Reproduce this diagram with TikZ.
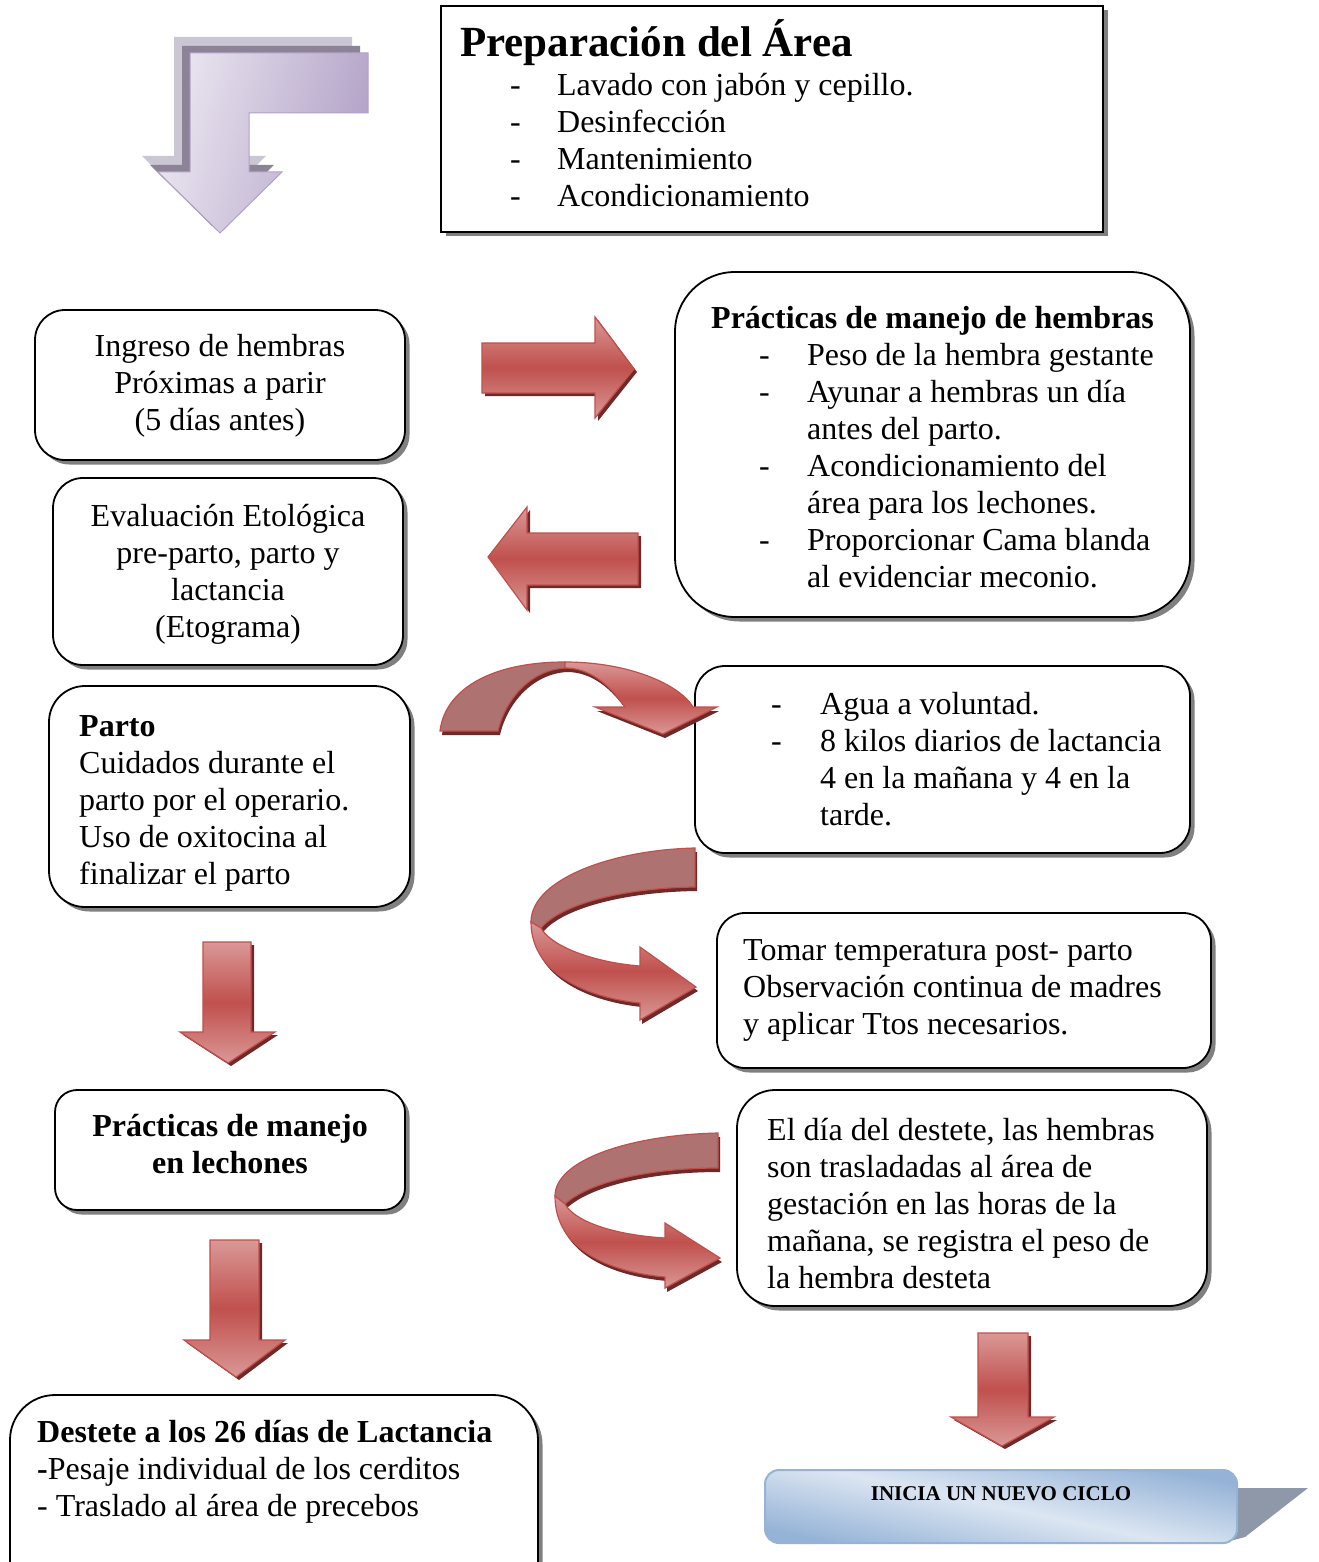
\documentclass[tikz,border=0pt]{standalone}
\usepackage{fontspec}
\setmainfont{Liberation Serif}
\usetikzlibrary{shadows}
\definecolor{rmid}{HTML}{C0504D}
\definecolor{rlight}{HTML}{DA9896}
\definecolor{rline}{HTML}{C24F4C}
\definecolor{rdark}{HTML}{6E2A28}
\definecolor{rback}{HTML}{AE7371}
\definecolor{lavl}{HTML}{EAE6F0}
\definecolor{lavd}{HTML}{B2A1C7}
\definecolor{lavs1}{HTML}{8C8496}
\definecolor{lavs2}{HTML}{CBC6D3}
\definecolor{bluel}{HTML}{DCE6F2}
\definecolor{blued}{HTML}{95B3D7}
\definecolor{blues}{HTML}{8E98A9}
\newcommand\fs{\fontsize{32}{37}\selectfont}
\tikzset{
  box/.style={draw=black, line width=1.8pt, fill=white, inner sep=0pt,
    drop shadow={shadow xshift=4.5pt, shadow yshift=-4.5pt, fill=black!50, opacity=1}},
  txt/.style={inner sep=0pt, font=\fs, anchor=base west},
  ctxt/.style={inner sep=0pt, font=\fs, anchor=base},
  rshad/.style={fill=rdark},
  rfront/.style={draw=rline, line width=1.2pt, top color=rlight, bottom color=rlight, middle color=rmid},
  rbackf/.style={draw=rline, line width=1.2pt, fill=rback},
}
\begin{document}
\begin{tikzpicture}[x=1pt, y=-1pt]
\clip (0,0) rectangle (1318,1562);
\fill[white] (0,0) rectangle (1318,1562);

% ---- top-left lavender bent arrow
\def\pLav{(190,53) -- (368,53) -- (368,113) -- (249,113) -- (249,172) -- (282,172) -- (220,233) -- (158,172) -- (190,172) -- cycle}
\fill[fill=lavs2, shift={(-16,-16)}] \pLav;
\fill[fill=lavs1, shift={(-8,-7)}] \pLav;
\path[draw=lavd, line width=1pt, left color=lavl, right color=lavd, shading angle=75] \pLav;

% ---- boxes
\node[box, minimum width=662pt, minimum height=226pt] (prep) at (772,119) {};
\node[box, rounded corners=30pt, minimum width=370pt, minimum height=150pt] (ingreso) at (220,385) {};
\node[box, rounded corners=60pt, minimum width=515pt, minimum height=345pt] (hembras) at (932.5,444.5) {};
\node[box, rounded corners=30pt, minimum width=350pt, minimum height=187pt] (etol) at (228,571.5) {};
\node[box, rounded corners=36pt, minimum width=361pt, minimum height=221pt] (parto) at (229.5,796.5) {};
\node[box, rounded corners=30pt, minimum width=495pt, minimum height=187pt] (agua) at (942.5,759.5) {};
\node[box, rounded corners=28pt, minimum width=494pt, minimum height=155pt] (temp) at (964,990.5) {};
\node[box, rounded corners=22pt, minimum width=350pt, minimum height=120pt] (lech) at (230,1150) {};
\node[box, rounded corners=38pt, minimum width=470pt, minimum height=216pt] (dest) at (972,1198) {};
\node[box, rounded corners=45pt, minimum width=528pt, minimum height=230pt] (final) at (274,1510) {};

% ---- texts
\node[inner sep=0pt, anchor=base west, font=\fontsize{43}{50}\selectfont\bfseries] (tprep) at (460,57) {Preparación del Área};
\node[txt] (lprep) at (510,96) {\begin{tabular}[t]{@{}l@{}}
\makebox[47pt][l]{-}Lavado con jabón y cepillo.\\
\makebox[47pt][l]{-}Desinfección\\
\makebox[47pt][l]{-}Mantenimiento\\
\makebox[47pt][l]{-}Acondicionamiento\end{tabular}};
\node[ctxt] (tingreso) at (220,356) {\begin{tabular}[t]{@{}c@{}}Ingreso de hembras\\ Próximas a parir\\ (5 días antes)\end{tabular}};
\node[txt] (thembras) at (711,328) {\begin{tabular}[t]{@{}l@{}}
\textbf{Prácticas de manejo de hembras}\\
\hspace{48pt}\makebox[48pt][l]{-}Peso de la hembra gestante\\
\hspace{48pt}\makebox[48pt][l]{-}Ayunar a hembras un día\\
\hspace{48pt}\hspace{48pt}antes del parto.\\
\hspace{48pt}\makebox[48pt][l]{-}Acondicionamiento del\\
\hspace{48pt}\hspace{48pt}área para los lechones.\\
\hspace{48pt}\makebox[48pt][l]{-}Proporcionar Cama blanda\\
\hspace{48pt}\hspace{48pt}al evidenciar meconio.\end{tabular}};
\node[ctxt] (tetol) at (228,526) {\begin{tabular}[t]{@{}c@{}}Evaluación Etológica\\ pre-parto, parto y\\ lactancia\\ (Etograma)\end{tabular}};
\node[txt] (tparto) at (79,736) {\begin{tabular}[t]{@{}l@{}}\textbf{Parto}\\ Cuidados durante el\\ parto por el operario.\\ Uso de oxitocina al\\ finalizar el parto\end{tabular}};
\node[txt] (tagua) at (771,714) {\begin{tabular}[t]{@{}l@{}}
\makebox[49pt][l]{-}Agua a voluntad.\\
\makebox[49pt][l]{-}8 kilos diarios de lactancia\\
\hspace{49pt}4 en la mañana y 4 en la\\
\hspace{49pt}tarde.\end{tabular}};
\node[txt] (ttemp) at (743,960) {\begin{tabular}[t]{@{}l@{}}Tomar temperatura post- parto\\ Observación continua de madres\\ y aplicar Ttos necesarios.\end{tabular}};
\node[ctxt] (tlech) at (230,1136) {\begin{tabular}[t]{@{}c@{}}\textbf{Prácticas de manejo}\\ \textbf{en lechones}\end{tabular}};
\begin{scope}
\clip (737,1095) rectangle (1207,1289);
\node[txt] (tdest) at (767,1140) {\begin{tabular}[t]{@{}l@{}}El día del destete, las hembras\\ son trasladadas al área de\\ gestación en las horas de la\\ mañana, se registra el peso de\\ la hembra desteta\end{tabular}};
\end{scope}
\node[txt] (tfinal) at (37,1442) {\begin{tabular}[t]{@{}l@{}}\textbf{Destete a los 26 días de Lactancia}\\ \textbf{-}Pesaje individual de los cerditos\\ - Traslado al área de precebos\end{tabular}};

% ---- straight red arrows
\def\pRA{(482,343) -- (595,343) -- (595,317) -- (634,369) -- (595,418) -- (595,393) -- (482,393) -- cycle}
\fill[rshad, shift={(3,3)}] \pRA;
\path[rfront] \pRA;
\def\pLA{(638,533) -- (527,533) -- (527,507) -- (488,557) -- (527,610) -- (527,585) -- (638,585) -- cycle}
\fill[rshad, shift={(3,3)}] \pLA;
\path[rfront] \pLA;
\def\pDa{(203,942) -- (251,942) -- (251,1032) -- (275,1032) -- (228,1063) -- (180,1032) -- (203,1032) -- cycle}
\fill[rshad, shift={(3,3)}] \pDa;
\path[rfront] \pDa;
\def\pDb{(210,1240) -- (259,1240) -- (259,1340) -- (285,1340) -- (236,1377) -- (184,1340) -- (210,1340) -- cycle}
\fill[rshad, shift={(3,3)}] \pDb;
\path[rfront] \pDb;
\def\pDc{(978,1333) -- (1028,1333) -- (1028,1417) -- (1054,1417) -- (1002,1446) -- (951,1417) -- (978,1417) -- cycle}
\fill[rshad, shift={(3,3)}] \pDc;
\path[rfront] \pDc;

% ---- curved arrow 1 (arch)
\def\pCaL{(440,731) .. controls (445,690) and (490,662) .. (565,662) -- (565,668) .. controls (530,670) and (505,700) .. (498,731) -- cycle}
\def\pCaR{(565,662) .. controls (630,662) and (680,685) .. (693,707) -- (717,707) -- (663,734) -- (595,707) -- (625,707) .. controls (610,685) and (590,668) .. (565,668) -- cycle}
\fill[rshad, shift={(2,4)}] \pCaL;
\fill[rshad, shift={(2,4)}] \pCaR;
\path[rbackf] \pCaL;
\path[rfront] \pCaR;

% ---- curved arrow 2 (U-turn)
\def\pCbU{(695,848) .. controls (610,850) and (531,880) .. (531,922) -- (541,928) .. controls (560,905) and (620,888) .. (695,887) -- cycle}
\def\pCbD{(531,922) .. controls (531,975) and (590,998) .. (640,1003) -- (640,1020) -- (696,987) -- (640,947) -- (640,966) .. controls (590,962) and (550,945) .. (541,928) -- cycle}
\fill[rshad, shift={(2,4)}] \pCbU;
\fill[rshad, shift={(2,4)}] \pCbD;
\path[rbackf] \pCbU;
\path[rfront] \pCbD;

% ---- curved arrow 3 (U-turn)
\def\pCcU{(718,1133) .. controls (630,1135) and (555,1160) .. (555,1196) -- (565,1204) .. controls (585,1185) and (640,1168) .. (718,1168) -- cycle}
\def\pCcD{(555,1196) .. controls (555,1250) and (610,1272) .. (665,1277) -- (665,1288) -- (720,1258) -- (665,1223) -- (665,1238) .. controls (615,1235) and (575,1222) .. (565,1204) -- cycle}
\fill[rshad, shift={(2,4)}] \pCcU;
\fill[rshad, shift={(2,4)}] \pCcD;
\path[rbackf] \pCcU;
\path[rfront] \pCcD;

% ---- new cycle box
\fill[fill=blues] (1230,1488) -- (1308,1488) -- (1245,1537) -- (1230,1541) -- cycle;
\node[draw=blued, line width=2pt, rounded corners=14pt, minimum width=472pt, minimum height=73pt,
  top color=blued, bottom color=blued, middle color=bluel, shading angle=-12] (ciclo) at (1001,1506.5) {};
\node[inner sep=0pt, anchor=base, font=\fontsize{21}{25}\selectfont\bfseries] (tciclo) at (1001,1500) {INICIA UN NUEVO CICLO};
\end{tikzpicture}
\end{document}
